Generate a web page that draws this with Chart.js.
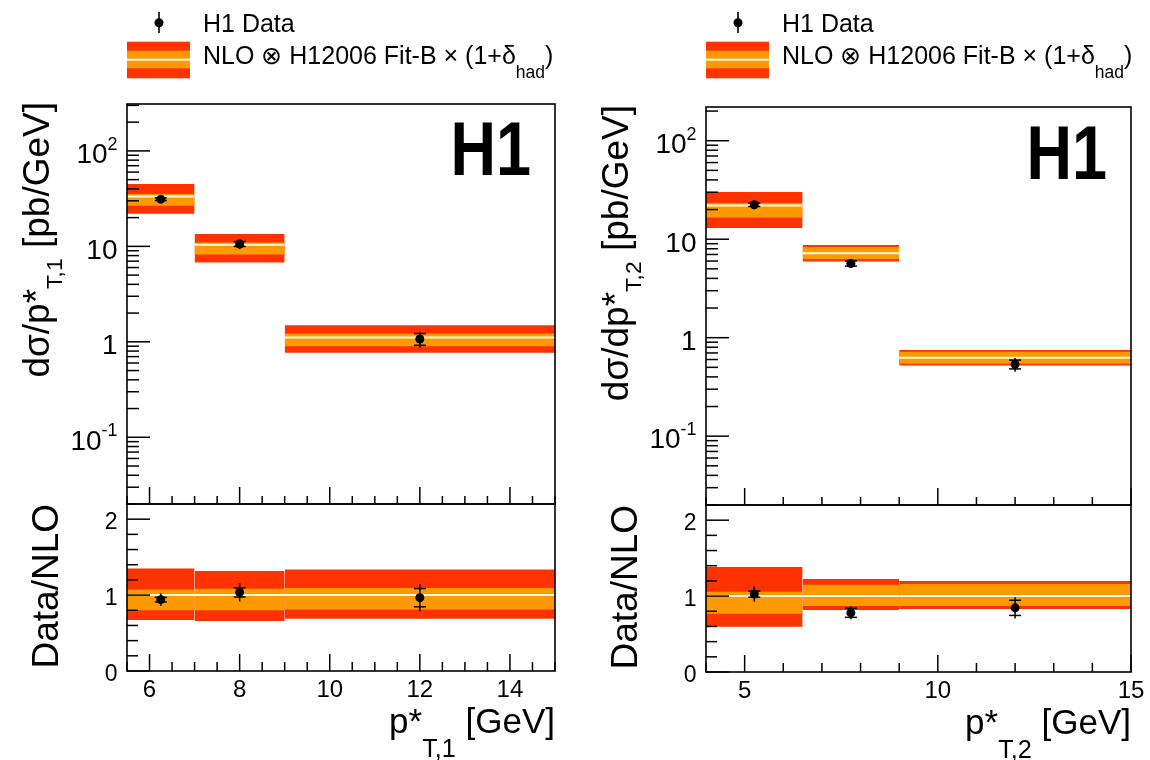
<!DOCTYPE html>
<html>
<head>
<meta charset="utf-8">
<script src="https://cdn.jsdelivr.net/npm/chart.js@4.4.0/dist/chart.umd.min.js"></script>
<style>
  html, body { margin: 0; padding: 0; background: #fff; }
  #wrap { position: relative; width: 1150px; height: 760px; }
  #wrap canvas { position: absolute; left: 0; top: 0; }
</style>
</head>
<body>
<div id="wrap">
  <canvas id="up1" width="1150" height="760"></canvas>
  <canvas id="lo1" width="1150" height="760"></canvas>
  <canvas id="up2" width="1150" height="760"></canvas>
  <canvas id="lo2" width="1150" height="760"></canvas>
</div>
<script>
// ---- data: leading jet p*T,1 (left) ----
const bins1 = [5.5, 7, 9, 15];
const xData1 = [6.25, 8, 12];
const nlo1 = [33.2, 10.4, 1.11];
const nlo1ScaleUp = [35.4, 11.0, 1.22];
const nlo1ScaleDn = [26.7, 8.2, 0.90];
const nlo1TotUp = [45, 13.5, 1.49];
const nlo1TotDn = [21.9, 6.76, 0.77];
const data1 = [31.2, 10.6, 1.07];
const data1Stat = [1.0, 0.62, 0.15];
const data1Tot = [2.7, 1.25, 0.2];
const ratio1ScaleUp = [1.075, 1.084, 1.092];
const ratio1ScaleDn = [0.80, 0.80, 0.81];
const ratio1TotUp = [1.35, 1.316, 1.338];
const ratio1TotDn = [0.671, 0.658, 0.689];
const ratio1 = [0.94, 1.035, 0.966];
const ratio1Stat = [0.03, 0.06, 0.12];
const ratio1Tot = [0.08, 0.12, 0.18];

// ---- data: second jet p*T,2 (right) ----
const bins2 = [4, 6.5, 9, 15];
const xData2 = [5.25, 7.75, 12];
const nlo2 = [22.0, 7.22, 0.627];
const nlo2ScaleUp = [23.3, 8.34, 0.72];
const nlo2ScaleDn = [16.6, 6.29, 0.545];
const nlo2TotUp = [30.1, 8.73, 0.75];
const nlo2TotDn = [13.0, 5.92, 0.523];
const data2 = [22.4, 5.67, 0.537];
const data2Stat = [0.9, 0.34, 0.055];
const data2Tot = [2.2, 0.5, 0.085];
const ratio2ScaleUp = [1.057, 1.15, 1.16];
const ratio2ScaleDn = [0.766, 0.87, 0.87];
const ratio2TotUp = [1.384, 1.225, 1.2];
const ratio2TotDn = [0.597, 0.818, 0.83];
const ratio2 = [1.026, 0.78, 0.845];
const ratio2Stat = [0.04, 0.06, 0.10];
const ratio2Tot = [0.10, 0.085, 0.14];

const ratioCentral = [1, 1, 1];

// ---- axis ticks ----
const logTicks = [0.1, 1, 10, 100];
const logTickLabels = [['10', '-1'], ['1', ''], ['10', ''], ['10', '2']];
const ratioTicks = [0, 1, 2];
const ratioTickLabels = ['0', '1', '2'];
const ptTicks1 = [6, 8, 10, 12, 14];
const ptTicks2 = [5, 10, 15];

const RED = '#ff3300';
const ORANGE = '#ff9900';
const CENTRAL = '#fffbe8';
const FONT = '"Liberation Sans", Arial, Helvetica, sans-serif';

// draw a string made of normal / subscript / superscript pieces
function drawRich(ctx, parts, x, y, size, align, sub) {
  sub = sub || {};
  const sc = sub.scale || 0.62, off = sub.off || size * 0.4, supOff = sub.supOff || size * 0.45;
  let w = 0;
  const items = parts.map(p => {
    const kind = p[1] || 'n';
    const fs = kind === 'n' ? size : size * sc;
    ctx.font = fs + 'px ' + FONT;
    const it = { t: p[0], fs: fs, dy: kind === 'b' ? off : (kind === 'p' ? -supOff : 0), x: w };
    w += ctx.measureText(p[0]).width;
    return it;
  });
  const x0 = align === 'right' ? x - w : (align === 'center' ? x - w / 2 : x);
  ctx.textAlign = 'left';
  ctx.textBaseline = 'alphabetic';
  items.forEach(it => {
    ctx.font = it.fs + 'px ' + FONT;
    ctx.fillText(it.t, x0 + it.x, y + it.dy);
  });
}

function line(ctx, x1, y1, x2, y2) {
  ctx.beginPath(); ctx.moveTo(x1, y1); ctx.lineTo(x2, y2); ctx.stroke();
}

function minorTicks(min, max, step, log) {
  const out = [];
  if (log) {
    for (let e = Math.floor(Math.log10(min)); e <= Math.ceil(Math.log10(max)); e++) {
      for (let k = 2; k <= 9; k++) {
        const v = k * Math.pow(10, e);
        if (v > min && v < max) out.push(v);
      }
    }
  } else {
    for (let v = Math.ceil(min / step) * step; v <= max + 1e-9; v += step) {
      out.push(Math.round(v * 1000) / 1000);
    }
  }
  return out;
}

// ROOT-like frame, inner ticks, labels, titles, error bars
const rootFrame = {
  id: 'rootFrame',
  beforeDatasetDraw(chart, args) {
    const ds = chart.data.datasets[args.index];
    if (!ds.errTot) return;
    const ctx = chart.ctx, xs = chart.scales.x, ys = chart.scales.y;
    ctx.save();
    ctx.strokeStyle = '#000';
    ctx.lineWidth = 1.5;
    ds.data.forEach((p, i) => {
      const px = xs.getPixelForValue(p.x);
      line(ctx, px, ys.getPixelForValue(p.y + ds.errTot[i]), px, ys.getPixelForValue(p.y - ds.errTot[i]));
      [p.y + ds.errStat[i], p.y - ds.errStat[i]].forEach(v => {
        const py = ys.getPixelForValue(v);
        line(ctx, px - 6, py, px + 6, py);
      });
    });
    ctx.restore();
  },
  afterDraw(chart, args, o) {
    const ctx = chart.ctx, a = chart.chartArea, xs = chart.scales.x, ys = chart.scales.y;
    ctx.save();
    ctx.strokeStyle = '#000';
    ctx.fillStyle = '#000';
    ctx.lineWidth = 1.5;
    // y ticks
    o.yMajor.forEach(v => {
      const py = ys.getPixelForValue(v);
      if (py >= a.top - 0.5 && py <= a.bottom + 0.5) line(ctx, a.left, py, a.left + o.yMajorLen, py);
    });
    minorTicks(ys.min, ys.max, o.yMinorStep, o.logY).forEach(v => {
      if (o.yMajor.indexOf(v) >= 0) return;
      const py = ys.getPixelForValue(v);
      line(ctx, a.left, py, a.left + o.yMinorLen, py);
    });
    // x ticks
    o.xMajor.forEach(v => {
      const px = xs.getPixelForValue(v);
      line(ctx, px, a.bottom, px, a.bottom - o.xMajorLen);
    });
    minorTicks(xs.min, xs.max, o.xMinorStep, false).forEach(v => {
      if (o.xMajor.indexOf(v) >= 0) return;
      const px = xs.getPixelForValue(v);
      line(ctx, px, a.bottom, px, a.bottom - o.xMinorLen);
    });
    // frame
    ctx.lineWidth = 1.6;
    ctx.strokeRect(a.left, a.top, a.right - a.left, a.bottom - a.top);
    // y labels
    o.yMajor.forEach((v, i) => {
      const py = ys.getPixelForValue(v);
      const lab = o.yLabels[i];
      const parts = Array.isArray(lab) ? [[lab[0]], [lab[1], 'p']] : [[lab]];
      drawRich(ctx, parts, a.left - 9.5, py + o.yLabelSize * 0.44, o.yLabelSize, 'right',
        { scale: 0.64, supOff: o.yLabelSize * 0.48 });
    });
    // x labels
    if (o.xLabels) {
      o.xMajor.forEach(v => {
        const px = xs.getPixelForValue(v);
        drawRich(ctx, [[String(v)]], px, a.bottom + 26, o.xLabelSize, 'center');
      });
    }
    // free texts
    (o.texts || []).forEach(t => {
      ctx.save();
      ctx.translate(t.x, t.y);
      if (t.rotate) ctx.rotate(-Math.PI / 2);
      if (t.bold) {
        ctx.scale(1, t.stretch || 1);
        ctx.font = 'bold ' + t.size + 'px ' + FONT;
        ctx.textAlign = t.align; ctx.textBaseline = 'alphabetic';
        ctx.fillText(t.parts[0][0], 0, 0);
      } else {
        drawRich(ctx, t.parts, 0, 0, t.size, t.align, t.sub);
      }
      ctx.restore();
    });
    // legend
    if (o.legendX !== undefined) {
      const lx = o.legendX;
      line(ctx, lx + 32, 12, lx + 32, 33);
      ctx.beginPath(); ctx.arc(lx + 32, 22.7, 4.5, 0, Math.PI * 2); ctx.fill();
      drawRich(ctx, [['H1 Data']], lx + 76, 32, 25, 'left');
      ctx.fillStyle = RED; ctx.fillRect(lx, 41.7, 63, 36.6);
      ctx.fillStyle = ORANGE; ctx.fillRect(lx, 50.7, 63, 17.6);
      ctx.fillStyle = CENTRAL; ctx.fillRect(lx, 58.7, 63, 2);
      ctx.fillStyle = '#000';
      drawRich(ctx, [['NLO \u2297 H12006 Fit-B \u00d7 (1+\u03b4'], ['had', 'b'], [')']], lx + 76, 64, 25, 'left',
        { scale: 0.7, off: 14 });
    }
    ctx.restore();
  }
};

function bandDatasets(bins, hi, lo, color, order) {
  const out = [];
  for (let i = 0; i < hi.length; i++) {
    out.push({ type: 'line', data: [{ x: bins[i], y: hi[i] }, { x: bins[i + 1], y: hi[i] }],
      borderWidth: 0, borderColor: 'rgba(0,0,0,0)', pointRadius: 0, fill: false, order: order });
    out.push({ type: 'line', data: [{ x: bins[i], y: lo[i] }, { x: bins[i + 1], y: lo[i] }],
      borderWidth: 0, borderColor: 'rgba(0,0,0,0)', pointRadius: 0, fill: '-1', backgroundColor: color, order: order });
  }
  return out;
}

function centralDatasets(bins, central) {
  return central.map((c, i) => ({
    type: 'line', data: [{ x: bins[i], y: c }, { x: bins[i + 1], y: c }],
    borderColor: CENTRAL, borderWidth: 2, pointRadius: 0, fill: false, order: 2
  }));
}

function makePanel(id, cfg) {
  const datasets = []
    .concat(bandDatasets(cfg.bins, cfg.totUp, cfg.totDn, RED, 4))
    .concat(bandDatasets(cfg.bins, cfg.scaleUp, cfg.scaleDn, ORANGE, 3))
    .concat(centralDatasets(cfg.bins, cfg.central))
    .concat([{
      type: 'scatter',
      data: cfg.xData.map((x, i) => ({ x: x, y: cfg.data[i] })),
      errStat: cfg.stat, errTot: cfg.tot,
      pointRadius: 4.5, pointBackgroundColor: '#000', pointBorderWidth: 0, order: 1
    }]);
  return new Chart(document.getElementById(id), {
    type: 'scatter',
    data: { datasets: datasets },
    options: {
      responsive: false,
      animation: false,
      events: [],
      layout: { padding: cfg.area },
      plugins: { legend: { display: false }, tooltip: { enabled: false }, rootFrame: cfg.frame },
      scales: {
        x: { type: 'linear', min: cfg.xMin, max: cfg.xMax, display: false },
        y: { type: cfg.frame.logY ? 'logarithmic' : 'linear', min: cfg.yMin, max: cfg.yMax, display: false }
      }
    },
    plugins: [rootFrame]
  });
}

const titleSub = { scale: 0.62, off: 13 };
const xTitleSub = { scale: 0.72, off: 24 };

// left upper
makePanel('up1', {
  bins: bins1, xData: xData1, central: nlo1, scaleUp: nlo1ScaleUp, scaleDn: nlo1ScaleDn,
  totUp: nlo1TotUp, totDn: nlo1TotDn, data: data1, stat: data1Stat, tot: data1Tot,
  xMin: 5.5, xMax: 15, yMin: 0.02, yMax: 310,
  area: { left: 127, top: 104, right: 1150 - 555, bottom: 760 - 504 },
  frame: {
    logY: true, yMajor: logTicks, yLabels: logTickLabels, yLabelSize: 28, yMajorLen: 23, yMinorLen: 12,
    xMajor: ptTicks1, xMinorStep: 0.5, xMajorLen: 17, xMinorLen: 8, legendX: 127,
    texts: [
      { parts: [['H1']], bold: true, size: 63, stretch: 1.22, x: 531, y: 175, align: 'right' },
      { parts: [['d\u03c3/p*'], ['T,1', 'b'], [' [pb/GeV]']], rotate: true, size: 37, x: 49, y: 102, align: 'right', sub: titleSub }
    ]
  }
});

// left lower
makePanel('lo1', {
  bins: bins1, xData: xData1, central: ratioCentral, scaleUp: ratio1ScaleUp, scaleDn: ratio1ScaleDn,
  totUp: ratio1TotUp, totDn: ratio1TotDn, data: ratio1, stat: ratio1Stat, tot: ratio1Tot,
  xMin: 5.5, xMax: 15, yMin: 0, yMax: 2.2,
  area: { left: 127, top: 504, right: 1150 - 555, bottom: 760 - 671 },
  frame: {
    logY: false, yMajor: ratioTicks, yLabels: ratioTickLabels, yLabelSize: 23, yMinorStep: 0.2, yMajorLen: 23, yMinorLen: 11,
    xMajor: ptTicks1, xMinorStep: 0.5, xMajorLen: 17, xMinorLen: 9, xLabels: true, xLabelSize: 24,
    texts: [
      { parts: [['Data/NLO']], rotate: true, size: 37, x: 58, y: 504, align: 'right' },
      { parts: [['p*'], ['T,1', 'b'], [' [GeV]']], size: 35, x: 555, y: 733, align: 'right', sub: xTitleSub }
    ]
  }
});

// right upper
makePanel('up2', {
  bins: bins2, xData: xData2, central: nlo2, scaleUp: nlo2ScaleUp, scaleDn: nlo2ScaleDn,
  totUp: nlo2TotUp, totDn: nlo2TotDn, data: data2, stat: data2Stat, tot: data2Tot,
  xMin: 4, xMax: 15, yMin: 0.02, yMax: 220,
  area: { left: 706, top: 107, right: 1150 - 1131, bottom: 760 - 505 },
  frame: {
    logY: true, yMajor: logTicks, yLabels: logTickLabels, yLabelSize: 28, yMajorLen: 23, yMinorLen: 12,
    xMajor: ptTicks2, xMinorStep: 1, xMajorLen: 17, xMinorLen: 8, legendX: 706,
    texts: [
      { parts: [['H1']], bold: true, size: 63, stretch: 1.22, x: 1107, y: 179, align: 'right' },
      { parts: [['d\u03c3/dp*'], ['T,2', 'b'], [' [pb/GeV]']], rotate: true, size: 37, x: 628, y: 105, align: 'right', sub: titleSub }
    ]
  }
});

// right lower
makePanel('lo2', {
  bins: bins2, xData: xData2, central: ratioCentral, scaleUp: ratio2ScaleUp, scaleDn: ratio2ScaleDn,
  totUp: ratio2TotUp, totDn: ratio2TotDn, data: ratio2, stat: ratio2Stat, tot: ratio2Tot,
  xMin: 4, xMax: 15, yMin: 0, yMax: 2.2,
  area: { left: 706, top: 505, right: 1150 - 1131, bottom: 760 - 672 },
  frame: {
    logY: false, yMajor: ratioTicks, yLabels: ratioTickLabels, yLabelSize: 23, yMinorStep: 0.2, yMajorLen: 23, yMinorLen: 11,
    xMajor: ptTicks2, xMinorStep: 1, xMajorLen: 17, xMinorLen: 9, xLabels: true, xLabelSize: 24,
    texts: [
      { parts: [['Data/NLO']], rotate: true, size: 37, x: 637, y: 505, align: 'right' },
      { parts: [['p*'], ['T,2', 'b'], [' [GeV]']], size: 35, x: 1131, y: 734, align: 'right', sub: xTitleSub }
    ]
  }
});
</script>
</body>
</html>
